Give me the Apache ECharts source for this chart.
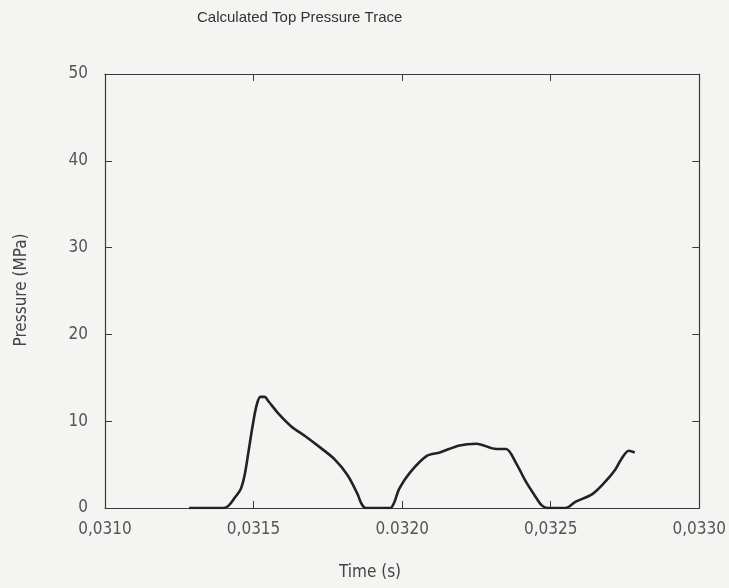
<!DOCTYPE html>
<html>
<head>
<meta charset="utf-8">
<script src="https://cdn.jsdelivr.net/npm/echarts@6/dist/echarts.min.js"></script>
<style>
html,body{margin:0;padding:0;background:#f4f4f2;}
#c{width:729px;height:588px;}
</style>
</head>
<body>
<div id="c"></div>
<script>
var timeValues = [0.031283,0.031400,0.031417,0.031437,0.031457,0.031470,0.031483,0.031497,0.031510,0.031523,0.031537,0.031550,0.031583,0.031627,0.031673,0.031727,0.031773,0.031817,0.031850,0.031863,0.031877,0.031960,0.031973,0.031990,0.032027,0.032083,0.032127,0.032193,0.032250,0.032317,0.032350,0.032383,0.032417,0.032450,0.032470,0.032490,0.032550,0.032583,0.032640,0.032683,0.032717,0.032737,0.032763,0.032783];
var pressureValues = [0,0,0.3,1.2,2.2,3.8,6.5,9.5,11.8,12.8,12.8,12.3,10.9,9.4,8.3,6.9,5.6,3.75,1.6,0.5,0,0,0.6,2.2,4.1,6.0,6.4,7.2,7.4,6.8,6.8,5.2,3.0,1.25,0.3,0,0,0.7,1.6,3.0,4.4,5.6,6.6,6.4];
var xTickLabels = ["0,0310","0,0315","0.0320","0,0325","0,0330"];
var yTickLabels = ["0","10","20","30","40","50"];
var titleText = "Calculated Top Pressure Trace";
var xName = "Time (s)";
var yName = "Pressure (MPa)";

var FONT = "'Liberation Sans Narrow','DejaVu Sans Condensed',sans-serif";
var data = timeValues.map(function(t,i){return [t, pressureValues[i]];});
var xMin = 0.0310, xMax = 0.0330, xStep = 0.0005;
function xLabel(v){ var i = Math.round((v - xMin)/xStep); return xTickLabels[i] || ""; }
function yLabel(v){ var i = Math.round(v/10); return yTickLabels[i] || ""; }
var lineCol = '#3a3a3a';
function axisCommon(){
  return {
    axisLine:{show:true,onZero:false,lineStyle:{color:lineCol,width:1.2}},
    axisTick:{show:true,inside:true,length:7,lineStyle:{color:lineCol,width:1}},
    splitLine:{show:false}
  };
}
var chart = echarts.init(document.getElementById('c'));
chart.setOption({
  backgroundColor:'#f4f4f2',
  animation:false,
  grid:{left:105,right:26,top:74,bottom:80},
  xAxis:[
    Object.assign({type:'value',min:xMin,max:xMax,interval:xStep,position:'bottom',
      axisLabel:{formatter:xLabel,color:'#555',fontSize:17,fontFamily:FONT,margin:13}}, axisCommon()),
    Object.assign({type:'value',min:xMin,max:xMax,interval:xStep,position:'top',
      axisLabel:{show:false}}, axisCommon())
  ],
  yAxis:[
    Object.assign({type:'value',min:0,max:50,interval:10,position:'left',
      axisLabel:{formatter:yLabel,color:'#555',fontSize:17,fontFamily:FONT,margin:17}}, axisCommon()),
    Object.assign({type:'value',min:0,max:50,interval:10,position:'right',
      axisLabel:{show:false}}, axisCommon())
  ],
  graphic:[
    {type:'text',left:197,top:10,style:{text:titleText,fill:'#333',font:'15px \'Liberation Sans\',\'DejaVu Sans\',sans-serif'}},
    {type:'text',x:22,y:290,rotation:Math.PI/2,style:{text:yName,fill:'#444',font:'17px '+FONT,align:'center',verticalAlign:'middle'}},
    {type:'text',x:370,y:573,style:{text:xName,fill:'#444',font:'17px '+FONT,align:'center',verticalAlign:'middle'}}
  ],
  series:[{
    type:'line',xAxisIndex:0,yAxisIndex:0,data:data,smooth:0.3,symbol:'none',
    lineStyle:{color:'#222',width:2.6}
  }]
});
</script>
</body>
</html>
